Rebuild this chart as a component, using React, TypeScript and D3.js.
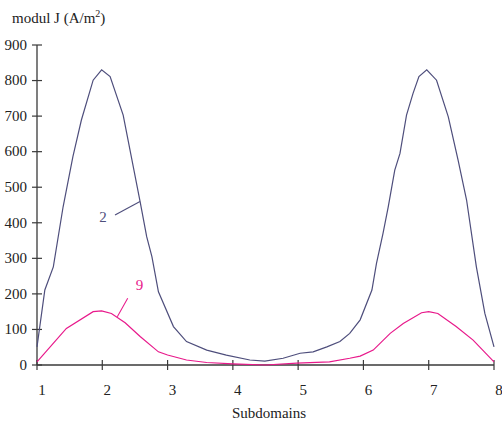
import React from "react";
import * as d3 from "d3";

const xTicks = [1, 2, 3, 4, 5, 6, 7, 8];
const yTicks = [0, 100, 200, 300, 400, 500, 600, 700, 800, 900];

const s2X = [1, 1.12, 1.25, 1.4, 1.55, 1.68, 1.86, 1.99, 2.12, 2.32, 2.58, 2.68, 2.76, 2.86, 3.09, 3.29, 3.6, 3.9, 4.26, 4.49, 4.77, 5.03, 5.23, 5.44, 5.64, 5.79, 5.95, 6.13, 6.2, 6.3, 6.38, 6.48, 6.56, 6.66, 6.76, 6.85, 6.97, 7.12, 7.3, 7.45, 7.58, 7.73, 7.86, 8];
const s2Y = [51, 211, 276, 445, 586, 689, 801, 830, 811, 703, 459, 361, 305, 206, 108, 66, 42, 28, 14, 11, 19, 33, 37, 51, 66, 89, 127, 211, 286, 370, 445, 548, 595, 703, 764, 811, 830, 801, 698, 576, 464, 276, 145, 51];

const s9X = [1, 1.45, 1.86, 1.99, 2.14, 2.35, 2.58, 2.86, 3, 3.29, 3.6, 4, 4.5, 4.98, 5.48, 5.79, 5.95, 6.15, 6.41, 6.61, 6.89, 7, 7.14, 7.42, 7.68, 8];
const s9Y = [9, 103, 150, 152, 145, 119, 80, 37, 28, 14, 7, 3, 0, 5, 9, 19, 25, 42, 89, 117, 147, 150, 145, 108, 70, 9];

const font = "'Liberation Serif', 'Times New Roman', serif";
const axisColor = "#3a3a3a";
const c2 = "#4e4e7c";
const c9 = "#e8198b";

export default function App() {
  const x = d3.scaleLinear().domain([1, 8]).range([37, 494]);
  const y = d3.scaleLinear().domain([0, 900]).range([365, 45]);
  const line = d3.line<[number, number]>().x(d => x(d[0])).y(d => y(d[1]));
  const d2 = line(s2X.map((v, i) => [v, s2Y[i]] as [number, number])) || "";
  const d9 = line(s9X.map((v, i) => [v, s9Y[i]] as [number, number])) || "";

  return (
    <svg width={502} height={426} style={{ position: "absolute", left: 0, top: 0 }} fontFamily={font}>
      <rect width={502} height={426} fill="#fff" />
      <text x={12} y={23} fontSize={15} fill="#222">
        modul J (A/m<tspan dy={-6} fontSize={10}>2</tspan><tspan dy={6}>)</tspan>
      </text>
      <line x1={x(1)} x2={x(1)} y1={y(900)} y2={y(0)} stroke={axisColor} strokeWidth={1.3} />
      {yTicks.map(t => (
        <g key={"y" + t}>
          <line x1={x(1) - 5} x2={x(1) + 5} y1={y(t)} y2={y(t)} stroke={axisColor} strokeWidth={1.2} />
          <text x={27} y={y(t)} dy="0.32em" textAnchor="end" fontSize={15} fill="#222">{t}</text>
        </g>
      ))}
      <line x1={x(1)} x2={x(8)} y1={y(0)} y2={y(0)} stroke={axisColor} strokeWidth={1.3} />
      {xTicks.map(t => (
        <g key={"x" + t}>
          <line x1={x(t)} x2={x(t)} y1={y(0) - 5} y2={y(0) + 5} stroke={axisColor} strokeWidth={1.2} />
          <text x={x(t) + 5} y={395} textAnchor="middle" fontSize={15} fill="#222">{t}</text>
        </g>
      ))}
      <text x={269} y={418} textAnchor="middle" fontSize={15} fill="#222">Subdomains</text>
      <path d={d2} fill="none" stroke={c2} strokeWidth={1.2} />
      <path d={d9} fill="none" stroke={c9} strokeWidth={1.2} />
      <line x1={115} y1={215} x2={140} y2={201.5} stroke={c2} strokeWidth={1.1} />
      <text x={103} y={217} dy="0.35em" textAnchor="middle" fontSize={15} fill={c2}>2</text>
      <line x1={127.7} y1={298.3} x2={117.3} y2={316.7} stroke={c9} strokeWidth={1.1} />
      <text x={139.5} y={285} dy="0.35em" textAnchor="middle" fontSize={15} fill={c9}>9</text>
    </svg>
  );
}
